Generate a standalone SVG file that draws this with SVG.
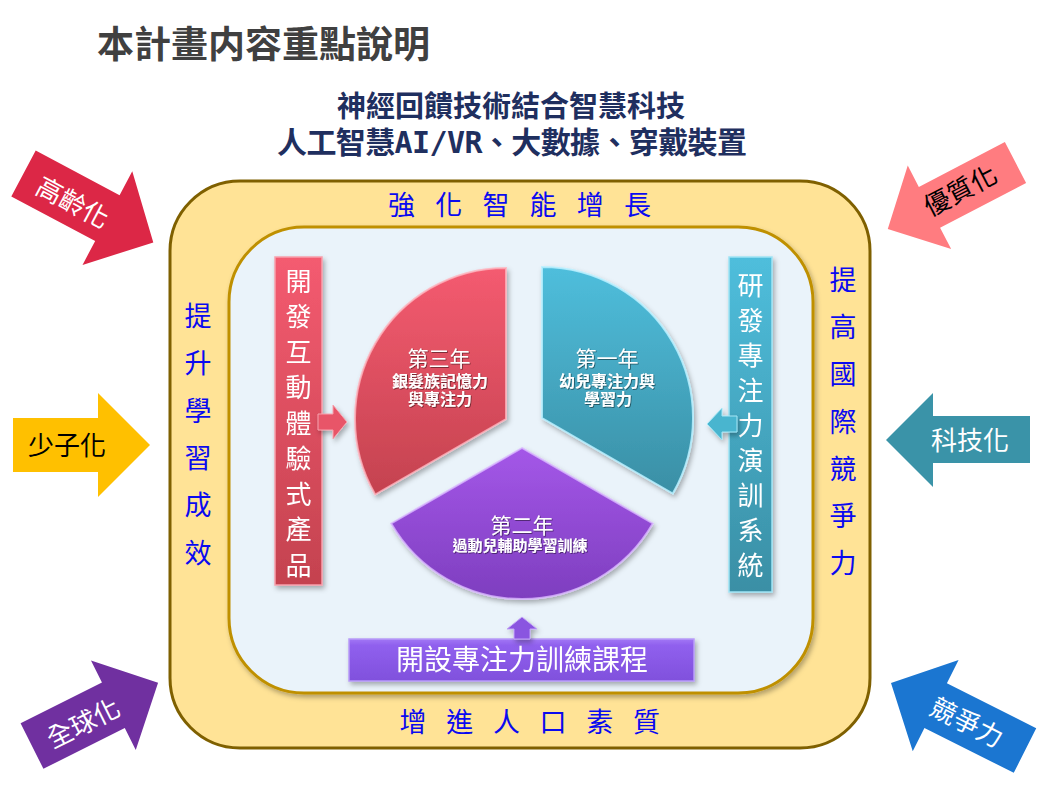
<svg xmlns="http://www.w3.org/2000/svg" width="1055" height="789" viewBox="0 0 1055 789">
<defs>
<style>
.cjk{font-family:"Noto Sans CJK TC","Noto Sans CJK SC",sans-serif;}
.ring{font-size:27px;fill:#0A0AF0;text-anchor:middle;}
.bar{font-size:26px;fill:#FFFFFF;text-anchor:middle;}
.yr{font-size:21px;fill:#FFFFFF;text-anchor:middle;}
.sm{font-size:16px;fill:#FFFFFF;text-anchor:middle;font-weight:700;}
.corner{font-size:26px;text-anchor:middle;}
.sub{font-weight:700;fill:#1F2F5F;text-anchor:middle;}
</style>
<linearGradient id="gRed" x1="0" y1="0" x2="0" y2="1">
<stop offset="0" stop-color="#F45B70"/><stop offset="1" stop-color="#C4424F"/>
</linearGradient>
<linearGradient id="gCyan" x1="0" y1="0" x2="0" y2="1">
<stop offset="0" stop-color="#4FBEDC"/><stop offset="1" stop-color="#3A8FA5"/>
</linearGradient>
<linearGradient id="gPur" x1="0" y1="0" x2="0" y2="1">
<stop offset="0" stop-color="#A457E8"/><stop offset="1" stop-color="#7E3EBF"/>
</linearGradient>
<linearGradient id="gPurBar" x1="0" y1="0" x2="0" y2="1">
<stop offset="0" stop-color="#A277F5"/><stop offset="0.15" stop-color="#9060EE"/><stop offset="1" stop-color="#8050DC"/>
</linearGradient>
<filter id="sh" x="-10%" y="-10%" width="130%" height="130%">
<feDropShadow dx="2" dy="3" stdDeviation="2.5" flood-color="#000" flood-opacity="0.3"/>
</filter>
<filter id="tsh" x="-10%" y="-20%" width="120%" height="150%">
<feDropShadow dx="0.8" dy="0.8" stdDeviation="0.6" flood-color="#000" flood-opacity="0.55"/>
</filter>
</defs>
<rect width="1055" height="789" fill="#FFFFFF"/>

<g id="title">
<text class="cjk" x="97" y="58" font-size="37" font-weight="700" fill="#404040">本計畫内容重點說明</text>
</g>

<g id="subtitle">
<text class="cjk sub" x="511" y="117" font-size="29">神經回饋技術結合智慧科技</text>
<text class="cjk sub" x="512" y="153" font-size="30" textLength="470" lengthAdjust="spacing">人工智慧<tspan font-family="DejaVu Sans Mono,monospace">AI/VR</tspan>、大數據、穿戴裝置</text>
</g>

<g id="outer-ring">
<rect x="170" y="181" width="700" height="567" rx="70" ry="70" fill="#FFE396" stroke="#7F6000" stroke-width="3"/>
<text class="cjk ring" x="401.5 448.7 495.9 543.1 590.3 637.5" y="215">強化智能增長</text>
<text class="cjk ring" x="413 459.7 506.4 553.1 599.8 646.5" y="732">增進人口素質</text>
<text class="cjk ring" x="198 198 198 198 198 198" y="326 373.3 420.6 467.9 515.2 562.5">提升學習成效</text>
<text class="cjk ring" x="843 843 843 843 843 843 843" y="290 337.2 384.4 431.6 478.8 526 573.2">提高國際競爭力</text>
</g>

<g id="inner-panel">
<rect x="229" y="227" width="584" height="466" rx="75" ry="75" fill="#EAF3FA" stroke="#BF9000" stroke-width="3" filter="url(#sh)"/>
</g>

<g id="sector-year3" filter="url(#sh)">
<path d="M506,419 L506,268 A151,151 0 0 0 375.2,494.5 Z" fill="url(#gRed)" stroke="#FFB3BD" stroke-width="2" stroke-opacity="0.8"/>
<g filter="url(#tsh)">
<text class="cjk yr" x="439" y="366">第三年</text>
<text class="cjk sm" x="440" y="386.5">銀髮族記憶力</text>
<text class="cjk sm" x="440" y="405">與專注力</text>
</g>
</g>

<g id="sector-year1" filter="url(#sh)">
<path d="M542,418 L542,267 A151,151 0 0 1 672.8,493.5 Z" fill="url(#gCyan)" stroke="#B8F0FF" stroke-width="2" stroke-opacity="0.85"/>
<g filter="url(#tsh)">
<text class="cjk yr" x="607" y="366">第一年</text>
<text class="cjk sm" x="607" y="386.5">幼兒專注力與</text>
<text class="cjk sm" x="608" y="405">學習力</text>
</g>
</g>

<g id="sector-year2" filter="url(#sh)">
<path d="M522,448 L391.2,523.5 A151,151 0 0 0 652.8,523.5 Z" fill="url(#gPur)" stroke="#D9B8FF" stroke-width="2" stroke-opacity="0.8"/>
<g filter="url(#tsh)">
<text class="cjk yr" x="522" y="533">第二年</text>
<text class="cjk" x="520" y="551" font-size="15" font-weight="700" fill="#FFFFFF" text-anchor="middle">過動兒輔助學習訓練</text>
</g>
</g>

<g id="bar-product" filter="url(#sh)">
<rect x="275" y="257" width="47" height="328" fill="url(#gRed)" stroke="#F7A0AC" stroke-width="1.5"/>
<text class="cjk bar" x="298.5 298.5 298.5 298.5 298.5 298.5 298.5 298.5 298.5" y="290.5 326 361.5 397 432.5 468 503.5 539 574.5">開發互動體驗式產品</text>
</g>

<g id="bar-system" filter="url(#sh)">
<rect x="729" y="257" width="43" height="335" fill="url(#gCyan)" stroke="#9FE3F5" stroke-width="1.5"/>
<text class="cjk bar" x="750.5 750.5 750.5 750.5 750.5 750.5 750.5 750.5 750.5" y="294.5 329.5 364.5 399.5 434.5 469.5 504.5 539.5 574.5">研發專注力演訓系統</text>
</g>

<g id="bar-course" filter="url(#sh)">
<rect x="349" y="639" width="345" height="42" fill="url(#gPurBar)" stroke="#B89CF8" stroke-width="1.5"/>
<text class="cjk" x="522" y="670" font-size="28" fill="#FFFFFF" text-anchor="middle">開設專注力訓練課程</text>
</g>

<g id="connectors" filter="url(#sh)">
<path d="M318,414 H333 V405 L347,422 L333,439 V430 H318 Z" fill="#E85468" stroke="#F6A3AE" stroke-width="1"/>
<path d="M707,424 L722,408 V416 H737 V432 H722 V440 Z" fill="#4AB5CF" stroke="#A5E6F5" stroke-width="1"/>
<path d="M522,617 L537,629 H530 V639 H514 V629 H507 Z" fill="#8A55E0" stroke="#C2A4F7" stroke-width="1"/>
</g>

<g id="arrow-aging">
<g transform="translate(23.5,173.5) rotate(28)">
<path d="M0,-26 H95 V-53 L147,0 L95,53 V26 H0 Z" fill="#DC2746"/>
<text class="cjk corner" x="57" y="12" fill="#FFFFFF">高齡化</text>
</g>
</g>

<g id="arrow-quality">
<path transform="translate(1015.5,162.5) rotate(152.5)" d="M0,-23 H97 V-47 L144,0 L97,47 V23 H0 Z" fill="#FF7C80"/>
<text class="cjk corner" transform="translate(960,190) rotate(-27.5)" x="0" y="10" fill="#000000">優質化</text>
</g>

<g id="arrow-lowbirth">
<path d="M13,418 H98 V393 L150,445 L98,497 V472 H13 Z" fill="#FFC000"/>
<text class="cjk corner" x="67" y="455" font-size="27" fill="#000000">少子化</text>
</g>

<g id="arrow-tech">
<path d="M886,440 L933,393 V416 H1030 V463 H933 V487 Z" fill="#3A93A8"/>
<text class="cjk corner" x="970" y="450" font-size="27" fill="#FFFFFF">科技化</text>
</g>

<g id="arrow-global">
<g transform="translate(32,746) rotate(-26.6)">
<path d="M0,-25.5 H91 V-50 L141,0 L91,50 V25.5 H0 Z" fill="#7030A0"/>
<text class="cjk corner" x="56" y="12" fill="#FFFFFF">全球化</text>
</g>
</g>

<g id="arrow-compete">
<path transform="translate(1025,750.5) rotate(206.7)" d="M0,-25 H100 V-51 L150,0 L100,51 V25 H0 Z" fill="#1B76D1"/>
<text class="cjk corner" transform="translate(967,722) rotate(26.7)" x="0" y="10" fill="#FFFFFF">競爭力</text>
</g>
</svg>
